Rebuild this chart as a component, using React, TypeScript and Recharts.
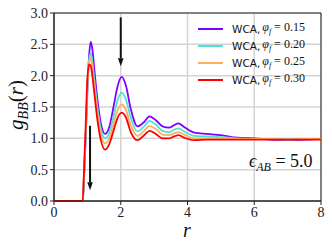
import { CartesianGrid, Line, LineChart, ReferenceArea, ReferenceLine, XAxis, YAxis } from "recharts";

const rValues = [0, 0.86, 0.9, 0.95, 1.0, 1.05, 1.1, 1.15, 1.2, 1.3, 1.4, 1.53, 1.65, 1.8, 1.9, 2.03, 2.15, 2.3, 2.5, 2.7, 2.86, 3.05, 3.25, 3.45, 3.6, 3.73, 3.9, 4.2, 4.6, 5.0, 5.5, 6.0, 6.5, 7.0, 7.5, 8.0];
const g015 = [0, 0, 0.35, 1.0, 1.75, 2.3, 2.54, 2.42, 2.15, 1.62, 1.25, 1.07, 1.17, 1.55, 1.82, 1.98, 1.85, 1.47, 1.19, 1.26, 1.35, 1.29, 1.19, 1.17, 1.21, 1.24, 1.18, 1.09, 1.07, 1.05, 1.01, 1.0, 0.98, 0.97, 0.98, 0.99];
const g020 = [0, 0, 0.4, 1.05, 1.8, 2.25, 2.36, 2.22, 1.97, 1.5, 1.16, 1.0, 1.08, 1.38, 1.6, 1.73, 1.63, 1.33, 1.11, 1.19, 1.28, 1.22, 1.12, 1.1, 1.14, 1.16, 1.11, 1.04, 1.03, 1.02, 1.0, 0.99, 0.99, 0.98, 0.99, 0.99];
const g025 = [0, 0, 0.45, 1.1, 1.85, 2.22, 2.28, 2.12, 1.87, 1.4, 1.07, 0.92, 0.99, 1.26, 1.44, 1.54, 1.46, 1.21, 1.04, 1.12, 1.2, 1.15, 1.06, 1.05, 1.08, 1.1, 1.06, 1.0, 1.0, 1.0, 0.99, 0.99, 0.99, 0.98, 0.99, 0.99];
const g030 = [0, 0, 0.5, 1.2, 1.95, 2.18, 2.16, 2.0, 1.76, 1.3, 0.98, 0.82, 0.9, 1.15, 1.32, 1.41, 1.34, 1.1, 0.97, 1.05, 1.12, 1.07, 1.0, 1.0, 1.03, 1.05, 1.01, 0.97, 0.98, 0.98, 0.98, 0.98, 0.98, 0.98, 0.98, 0.98];

const xTicks = [0, 2, 4, 6, 8];
const yTicks = [0, 0.5, 1.0, 1.5, 2.0, 2.5, 3.0];

const series = [
  { key: "p15", phi: "0.15", color: "#8000ff" },
  { key: "p20", phi: "0.20", color: "#4ee3d6" },
  { key: "p25", phi: "0.25", color: "#ffae60" },
  { key: "p30", phi: "0.30", color: "#ff0000" },
];

// arrows: x position, start and end g value
const arrows = [
  { x: 2.0, from: 2.93, to: 2.15 },
  { x: 1.08, from: 1.2, to: 0.17 },
];

const data = rValues.map((r, i) => ({ r, p15: g015[i], p20: g020[i], p25: g025[i], p30: g030[i] }));

const serif = "'Liberation Serif', 'DejaVu Serif', serif";

function Arrow(props: any) {
  const { x1, y1, x2, y2 } = props;
  const dx = x2 - x1;
  const dy = y2 - y1;
  const len = Math.hypot(dx, dy) || 1;
  const ux = dx / len;
  const uy = dy / len;
  const head = 8;
  const half = 2.8;
  const bx = x2 - ux * head;
  const by = y2 - uy * head;
  const pts = `${x2},${y2} ${bx - uy * half},${by + ux * half} ${bx + uy * half},${by - ux * half}`;
  return (
    <g>
      <line x1={x1} y1={y1} x2={bx} y2={by} stroke="#111" strokeWidth={2} />
      <polygon points={pts} fill="#111" />
    </g>
  );
}

export default function App() {
  return (
    <div style={{ position: "absolute", left: 0, top: 0, width: 332, height: 249, background: "#fff" }}>
      <LineChart width={332} height={249} data={data} margin={{ top: 13, right: 11, left: 0, bottom: 0 }}>
        <CartesianGrid stroke="#d4d4d4" strokeWidth={1.5} />
        <XAxis
          dataKey="r"
          type="number"
          domain={[0, 8]}
          ticks={xTicks}
          height={48}
          tick={{ fontSize: 14, fontFamily: serif, fill: "#222" }}
          stroke="#222"
          tickSize={4}
        />
        <YAxis
          type="number"
          domain={[0, 3]}
          ticks={yTicks}
          width={54}
          tickFormatter={(v: number) => v.toFixed(1)}
          tick={{ fontSize: 14, fontFamily: serif, fill: "#222" }}
          stroke="#222"
          tickSize={4}
        />
        <ReferenceArea x1={0} x2={8} y1={0} y2={3} fill="none" fillOpacity={0} stroke="#222" strokeWidth={1} />
        {series.map((s) => (
          <Line
            key={s.key}
            dataKey={s.key}
            type="monotone"
            stroke={s.color}
            strokeWidth={1.8}
            dot={false}
            isAnimationActive={false}
          />
        ))}
        {arrows.map((a, i) => (
          <ReferenceLine
            key={i}
            segment={[
              { x: a.x, y: a.from },
              { x: a.x, y: a.to },
            ]}
            shape={Arrow}
          />
        ))}
      </LineChart>
      <svg style={{ position: "absolute", left: 0, top: 0, pointerEvents: "none" }} width={332} height={249}>
        <text x={23} y={105} transform="rotate(-90 23 105)" textAnchor="middle" fontFamily={serif} fontSize={21} fill="#111">
          <tspan fontStyle="italic">g</tspan>
          <tspan fontStyle="italic" fontSize={14} dy={5}>BB</tspan>
          <tspan dy={-5}>(</tspan>
          <tspan fontStyle="italic">r</tspan>
          <tspan>)</tspan>
        </text>
        <text x={187} y={237} textAnchor="middle" fontFamily={serif} fontStyle="italic" fontSize={20} fill="#111">r</text>
        <text x={249} y={167} fontFamily={serif} fontSize={18} fill="#111">
          <tspan fontStyle="italic">ϵ</tspan>
          <tspan fontStyle="italic" fontSize={12} dy={4}>AB</tspan>
          <tspan dy={-4}> = 5.0</tspan>
        </text>
      </svg>
      <div style={{ position: "absolute", left: 198, top: 20 }}>
        {series.map((s) => (
          <div key={s.key} style={{ display: "flex", alignItems: "center", height: 17, whiteSpace: "nowrap" }}>
            <span style={{ display: "inline-block", width: 25, height: 2, background: s.color, marginRight: 9 }} />
            <span style={{ fontFamily: "'DejaVu Sans', sans-serif", fontSize: 10.5, color: "#111" }}>WCA, </span>
            <span style={{ fontFamily: serif, fontSize: 12, color: "#111", marginLeft: 2 }}>
              <i>φ</i>
              <sub style={{ fontSize: 8, fontStyle: "italic" }}>f</sub> = {s.phi}
            </span>
          </div>
        ))}
      </div>
    </div>
  );
}
